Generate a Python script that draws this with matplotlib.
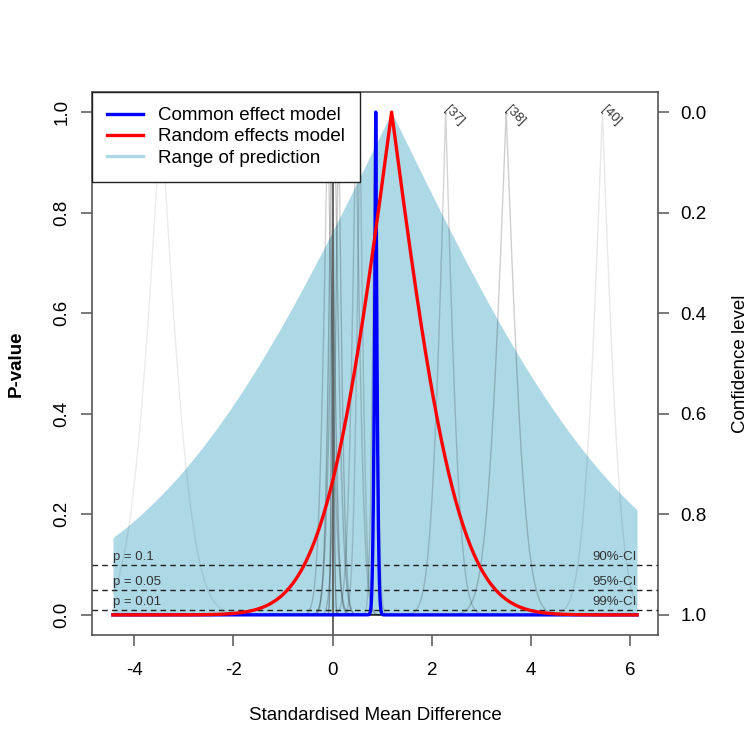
import numpy as np
import matplotlib
matplotlib.use("Agg")
import matplotlib.pyplot as plt
from matplotlib.lines import Line2D
from math import erfc, sqrt

plt.rcParams['font.family'] = ['Liberation Sans', 'DejaVu Sans']

# ---- data ----
x_range = [-4.43, 6.14]
common_te, common_se = 0.87, 0.04
random_te, random_se = 1.19, 1.07
pred_sd = 3.94

study_te = [-3.46, 2.28, 3.50, 5.44, -0.02, 0.04, -0.10, 0.12, 0.00, 0.47, 0.55, 0.85]
study_se = [0.48, 0.23, 0.31, 0.30, 0.10, 0.13, 0.14, 0.10, 0.03, 0.13, 0.10, 0.07]
study_alpha = [0.08, 0.17, 0.19, 0.09, 0.24, 0.20, 0.18, 0.20, 0.30, 0.17, 0.15, 0.15]
study_label = ["", "[37]", "[38]", "[40]", "", "", "", "", "", "", "", ""]

p_levels = [0.1, 0.05, 0.01]
p_texts = ["p = 0.1", "p = 0.05", "p = 0.01"]
ci_texts = ["90%-CI", "95%-CI", "99%-CI"]

x_ticks = [-4, -2, 0, 2, 4, 6]
y_ticks = [0.0, 0.2, 0.4, 0.6, 0.8, 1.0]

erfc_v = np.vectorize(erfc)


def pval(x, te, se):
    return erfc_v(np.abs(x - te) / (se * sqrt(2)))


x = np.linspace(x_range[0], x_range[1], 3000)
x = np.unique(np.concatenate([x, study_te, [common_te, random_te]]))
x = x[(x >= x_range[0]) & (x <= x_range[1])]

fig = plt.figure(figsize=(7.5, 7.5), dpi=100)
ax = fig.add_axes([92 / 750, 115 / 750, (658 - 92) / 750, (635 - 92) / 750])
ext = 0.04 * (x_range[1] - x_range[0])
ax.set_xlim(x_range[0] - ext, x_range[1] + ext)
ax.set_ylim(-0.04, 1.04)

# prediction range
ax.fill_between(x, 0, pval(x, random_te, pred_sd), color='#ADD8E6', lw=0, zorder=1)

# study curves
for te, se, a, lab in zip(study_te, study_se, study_alpha, study_label):
    ax.plot(x, pval(x, te, se), color='black', alpha=a, lw=1.0, zorder=2)
    if lab:
        ax.text(te + 0.1, 1.018, lab, rotation=-45, ha='left', va='top',
                rotation_mode='anchor', fontsize=9.5, color='#333333', zorder=3)

# reference line
ax.axvline(0, color='#666666', lw=1.4, zorder=3)

# p-value lines
for p, t1, t2 in zip(p_levels, p_texts, ci_texts):
    ax.axhline(p, color='#222222', lw=1.0, ls=(0, (4, 3)), zorder=4)
    ax.text(x_range[0], p + 0.004, t1, ha='left', va='bottom', fontsize=9.5, color='#333333', zorder=4)
    ax.text(x_range[1], p + 0.004, t2, ha='right', va='bottom', fontsize=9.5, color='#333333', zorder=4)

l1, = ax.plot(x, pval(x, common_te, common_se), color='blue', lw=2.4, zorder=5)
l2, = ax.plot(x, pval(x, random_te, random_se), color='red', lw=2.4, zorder=6)

l3 = Line2D([], [], color='#ADD8E6', lw=2.4)
leg = ax.legend([l1, l2, l3], ["Common effect model", "Random effects model", "Range of prediction"],
                loc='upper left', bbox_to_anchor=(0, 1), borderaxespad=0, fontsize=13.5,
                fancybox=False, framealpha=1, edgecolor='#222222', handlelength=1.9,
                handletextpad=0.8, labelspacing=0.22, borderpad=0.8)
leg.get_frame().set_linewidth(1.0)
leg.set_zorder(10)

for s in ax.spines.values():
    s.set_color('#555555')
    s.set_linewidth(1.2)
ax.set_xticks(x_ticks)
ax.set_xticklabels([str(v) for v in x_ticks])
ax.set_yticks(y_ticks)
ax.set_yticklabels([f"{v:.1f}" for v in y_ticks], rotation=90, va='center')
ax.tick_params(axis='x', direction='out', length=8, width=1.1, colors='#555555',
               labelsize=13.5, labelcolor='black', pad=11.7)
ax.tick_params(axis='y', direction='out', length=8, width=1.1, colors='#555555',
               labelsize=13.5, labelcolor='black', pad=7.7)
ax.set_xlabel("Standardised Mean Difference", fontsize=13.5, labelpad=20)
ax.set_ylabel("P-value", fontsize=13.5, fontweight='bold', labelpad=20.5)

ax2 = ax.twinx()
ax2.set_ylim(-0.04, 1.04)
ax2.set_yticks(y_ticks)
ax2.set_yticklabels([f"{1 - v:.1f}" for v in y_ticks])
ax2.tick_params(direction='out', length=8, width=1.1, colors='#555555',
                labelsize=13.5, labelcolor='black', pad=8)
ax2.set_ylabel("Confidence level", fontsize=13.5, labelpad=18.5)
for s in ax2.spines.values():
    s.set_visible(False)

fig.savefig("out.png", dpi=100, facecolor='white')
